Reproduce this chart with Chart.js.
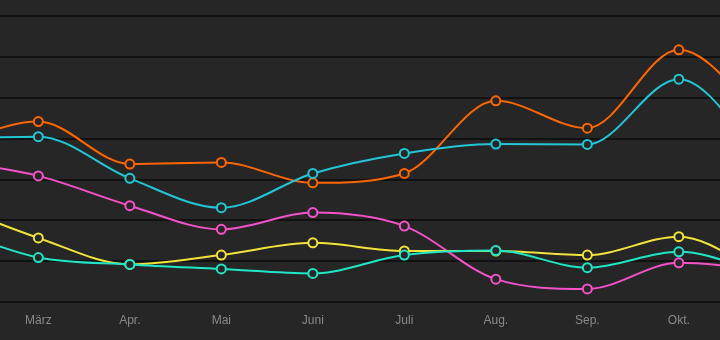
<!DOCTYPE html>
<html>
<head>
<meta charset="utf-8">
<script src="https://cdn.jsdelivr.net/npm/chart.js@4"></script>
<style>
  html, body { margin: 0; padding: 0; background: #262626; }
  #wrap { width: 720px; height: 340px; }
</style>
</head>
<body>
<div id="wrap"><canvas id="chart"></canvas></div>
<script>
// months shown on the x axis (Feb and Nov lie just outside the visible range)
const months = ['Feb', 'März', 'Apr.', 'Mai', 'Juni', 'Juli', 'Aug.', 'Sep.', 'Okt.', 'Nov.'];

const seriesOrange  = [38.4, 44.2, 33.8, 34.2, 29.2, 31.5, 49.3, 42.6, 61.8, 43.4];
const seriesCyan    = [40.0, 40.5, 30.3, 23.1, 31.5, 36.4, 38.7, 38.6, 54.6, 32.8];
const seriesMagenta = [34.8, 30.9, 23.6, 17.8, 21.9, 18.6,  5.6,  3.2,  9.6,  7.8];
const seriesYellow  = [24.2, 15.7,  9.2, 11.5, 14.5, 12.5, 12.5, 11.5, 16.0,  5.7];
const seriesTeal    = [18.2, 10.9,  9.2,  8.1,  7.0, 11.5, 12.6,  8.4, 12.3,  6.4];

const toPoints = vals => vals.map((v, i) => ({ x: i, y: v }));

function line(data, color) {
  return {
    data: toPoints(data),
    borderColor: color,
    borderWidth: 2,
    pointBackgroundColor: '#262626',
    pointBorderColor: color,
    pointBorderWidth: 2,
    pointRadius: 4.5,
    cubicInterpolationMode: 'monotone',
    fill: false
  };
}

new Chart(document.getElementById('chart'), {
  type: 'line',
  data: {
    datasets: [
      line(seriesTeal, '#1ee6c6'),
      line(seriesYellow, '#f2e33a'),
      line(seriesMagenta, '#f552c8'),
      line(seriesCyan, '#22c7d6'),
      line(seriesOrange, '#ff6600')
    ]
  },
  options: {
    responsive: true,
    maintainAspectRatio: false,
    animation: false,
    layout: { padding: 0, autoPadding: false },
    elements: { line: { capBezierPoints: false } },
    plugins: { legend: { display: false }, tooltip: { enabled: false } },
    scales: {
      x: {
        type: 'linear',
        min: 0.581,
        max: 8.45,
        grid: { display: false, drawTicks: false },
        border: { display: false },
        ticks: {
          stepSize: 1,
          includeBounds: false,
          padding: 11.8,
          color: '#8a8a8a',
          font: { family: '"Liberation Sans", Arial, sans-serif', size: 12 },
          callback: v => months[v]
        }
      },
      y: {
        min: 0,
        max: 74,
        grid: { color: '#111111', lineWidth: 2, drawTicks: false },
        border: { display: false },
        ticks: { display: false, stepSize: 10, includeBounds: false }
      }
    }
  }
});
</script>
</body>
</html>
